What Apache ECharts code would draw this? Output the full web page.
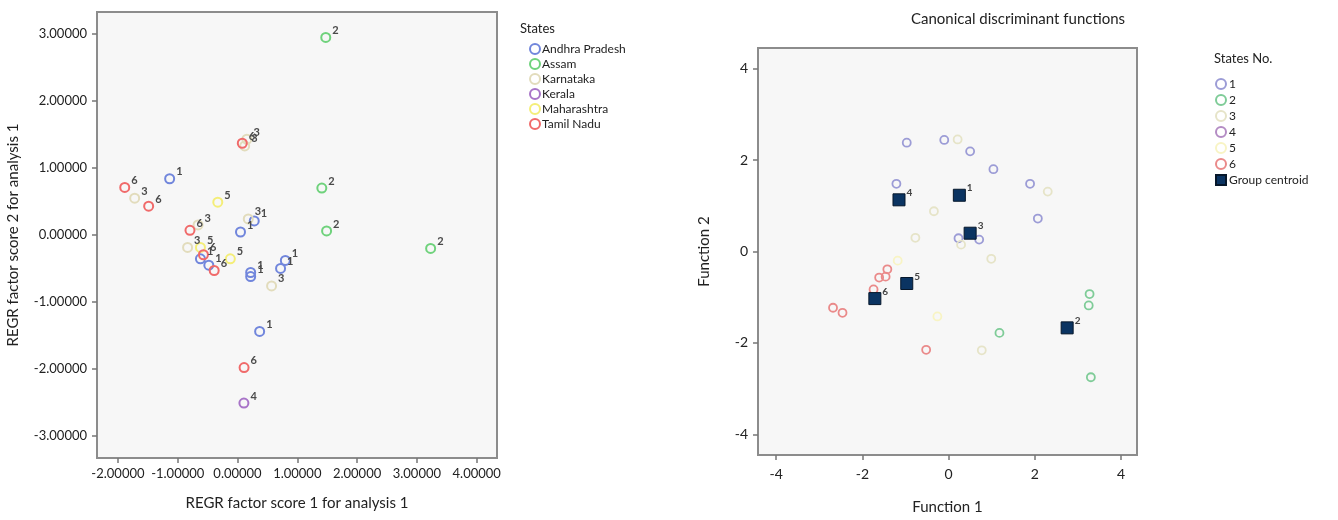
<!DOCTYPE html>
<html><head><meta charset="utf-8">
<script src="https://cdn.jsdelivr.net/npm/echarts@6/dist/echarts.min.js"></script>
<style>html,body{margin:0;padding:0;background:#fff}#c{width:1338px;height:520px}</style>
</head><body><div id="c"></div>
<script>
// ---------- Left chart: REGR factor scores ----------
const leftStates = ['Andhra Pradesh','Assam','Karnataka','Kerala','Maharashtra','Tamil Nadu'];
const leftNumbers = ['1','2','3','4','5','6'];
const leftAndhra = [[-1.135,0.84],[0.28,0.21],[0.05,0.045],[-0.62,-0.355],[-0.48,-0.45],[0.22,-0.56],[0.22,-0.62],[0.80,-0.38],[0.72,-0.50],[0.37,-1.44]];
const leftAssam = [[1.476,2.95],[1.41,0.70],[1.49,0.06],[3.23,-0.20]];
const leftKarnataka = [[0.157,1.43],[0.12,1.33],[-1.72,0.55],[-0.66,0.15],[0.18,0.24],[-0.835,-0.185],[0.57,-0.76]];
const leftKerala = [[0.107,-2.51]];
const leftMaharashtra = [[-0.33,0.49],[-0.62,-0.185],[-0.12,-0.355]];
const leftTamil = [[0.08,1.37],[-1.886,0.71],[-1.486,0.43],[-0.795,0.07],[-0.57,-0.295],[-0.39,-0.53],[0.11,-1.98]];
const leftXTicks = [-2,-1,0,1,2,3,4];
const leftYTicks = [-3,-2,-1,0,1,2,3];

// ---------- Right chart: canonical discriminant functions ----------
const rightGroups = ['1','2','3','4','5','6'];
const right1 = [[-0.97,2.38],[-0.10,2.44],[0.50,2.19],[1.04,1.80],[1.89,1.48],[2.07,0.72],[-1.21,1.48],[0.23,0.29],[0.71,0.26]];
const right2 = [[3.27,-0.93],[3.25,-1.18],[1.18,-1.78],[3.30,-2.75]];
const right3 = [[0.21,2.45],[2.30,1.31],[-0.34,0.88],[-0.77,0.30],[0.29,0.15],[0.99,-0.16],[0.77,-2.16]];
const right4 = [[-1.15,1.13]];
const right5 = [[-1.18,-0.20],[-0.26,-1.42]];
const right6 = [[-1.42,-0.39],[-1.61,-0.57],[-1.46,-0.55],[-1.74,-0.83],[-2.68,-1.23],[-2.46,-1.34],[-0.52,-2.15]];
const centroidLabels = ['1','2','3','4','5','6'];
const centroids = [[0.25,1.23],[2.75,-1.67],[0.50,0.40],[-1.15,1.13],[-0.97,-0.70],[-1.71,-1.03]];
const rightTicks = [-4,-2,0,2,4];

const leftColors = ['#7186dc','#6fd27c','#e2dcbc','#a874c8','#f4ee78','#f06a6a'];
const rightColors = ['#9c9cd6','#7fcc98','#e6e4c8','#b48cc4','#f8f4c4','#ea8a8a'];
const FONT = 'Lato';

const chart = echarts.init(document.getElementById('c'));
const leftData = [leftAndhra,leftAssam,leftKarnataka,leftKerala,leftMaharashtra,leftTamil];
const rightData = [right1,right2,right3,right4,right5,right6];

const series = [];
leftStates.forEach((name,i)=>{
  series.push({
    name, type:'scatter', xAxisIndex:0, yAxisIndex:0,
    data:leftData[i], symbol:'circle', symbolSize:9,
    itemStyle:{color:'rgba(0,0,0,0)', borderColor:leftColors[i], borderWidth:2, opacity:1},
    label:{show:true, formatter:leftNumbers[i], position:'right', distance:1, offset:[0,-7],
      fontFamily:FONT, fontSize:11, fontWeight:'bold', color:'#4a4a4a'},
    emphasis:{disabled:true}
  });
});
rightGroups.forEach((name,i)=>{
  series.push({
    name, type:'scatter', xAxisIndex:1, yAxisIndex:1,
    data:rightData[i], symbol:'circle', symbolSize:8,
    itemStyle:{color:'rgba(0,0,0,0)', borderColor:rightColors[i], borderWidth:1.8, opacity:1},
    emphasis:{disabled:true}
  });
});
series.push({
  name:'Group centroid', type:'scatter', xAxisIndex:1, yAxisIndex:1,
  data:centroids.map((p,i)=>({value:p, label:{formatter:centroidLabels[i]}})),
  symbol:'rect', symbolSize:12,
  itemStyle:{color:'#0b3462', borderColor:'#06172b', borderWidth:1, opacity:1},
  label:{show:true, position:'right', distance:1, offset:[0,-7], fontFamily:FONT, fontSize:10, fontWeight:'bold', color:'#444'},
  emphasis:{disabled:true}, z:3
});

function axisCommon(ticks, fmt, fontSize, margin){
  return {
    axisLine:{show:false, onZero:false},
    axisTick:{show:true, inside:false, length:5, customValues:ticks, lineStyle:{color:'#777', width:1.5}},
    axisLabel:{customValues:ticks, formatter:fmt, fontFamily:FONT, fontSize, color:'#222', margin},
    splitLine:{show:false}
  };
}
const fmt5 = v => (v<0?'-':'') + Math.abs(v).toFixed(5);
const fmt0 = v => String(v);

chart.setOption({
  animation:false,
  backgroundColor:'#ffffff',
  textStyle:{fontFamily:FONT},
  title:[
    {text:'States', left:515, top:17, textStyle:{fontFamily:FONT, fontSize:13, fontWeight:'normal', color:'#222'}},
    {text:'States No.', left:1209, top:47, textStyle:{fontFamily:FONT, fontSize:13, fontWeight:'normal', color:'#222'}},
    {text:'Canonical discriminant functions', left:1013, textAlign:'center', top:7, textStyle:{fontFamily:FONT, fontSize:15, fontWeight:'normal', color:'#222'}}
  ],
  legend:[
    {data:leftStates, orient:'vertical', left:524, top:38, itemWidth:10, itemHeight:10, itemGap:3, icon:'circle',
      textStyle:{fontFamily:FONT, fontSize:12, color:'#222', padding:[0,0,0,-3]}, selectedMode:false},
    {data:rightGroups.concat(['Group centroid']), orient:'vertical', left:1210, top:73, itemWidth:10, itemHeight:10, itemGap:4,
      textStyle:{fontFamily:FONT, fontSize:12, color:'#222', padding:[0,0,0,-2]}, selectedMode:false}
  ],
  grid:[
    {left:97, top:12, width:400, height:446, show:true, backgroundColor:'#f7f7f7', borderColor:'#8c8c8c', borderWidth:2},
    {left:758, top:48, width:379, height:407, show:true, backgroundColor:'#f7f7f7', borderColor:'#8c8c8c', borderWidth:2}
  ],
  xAxis:[
    Object.assign({type:'value', gridIndex:0, min:-2.35, max:4.34,
      name:'REGR factor score 1 for analysis 1', nameLocation:'middle', nameGap:38,
      nameTextStyle:{fontFamily:FONT, fontSize:15, color:'#222'}}, axisCommon(leftXTicks, fmt5, 13, 9)),
    Object.assign({type:'value', gridIndex:1, min:-4.42, max:4.37,
      name:'Function 1', nameLocation:'middle', nameGap:45,
      nameTextStyle:{fontFamily:FONT, fontSize:15, color:'#222'}}, axisCommon(rightTicks, fmt0, 14, 12))
  ],
  yAxis:[
    Object.assign({type:'value', gridIndex:0, min:-3.33, max:3.33,
      name:'REGR factor score 2 for analysis 1', nameLocation:'middle', nameGap:76,
      nameTextStyle:{fontFamily:FONT, fontSize:15, color:'#222'}}, axisCommon(leftYTicks, fmt5, 13, 10)),
    Object.assign({type:'value', gridIndex:1, min:-4.45, max:4.45,
      name:'Function 2', nameLocation:'middle', nameGap:46,
      nameTextStyle:{fontFamily:FONT, fontSize:15, color:'#222'}}, axisCommon(rightTicks, fmt0, 14, 10))
  ],
  series
});
</script></body></html>
